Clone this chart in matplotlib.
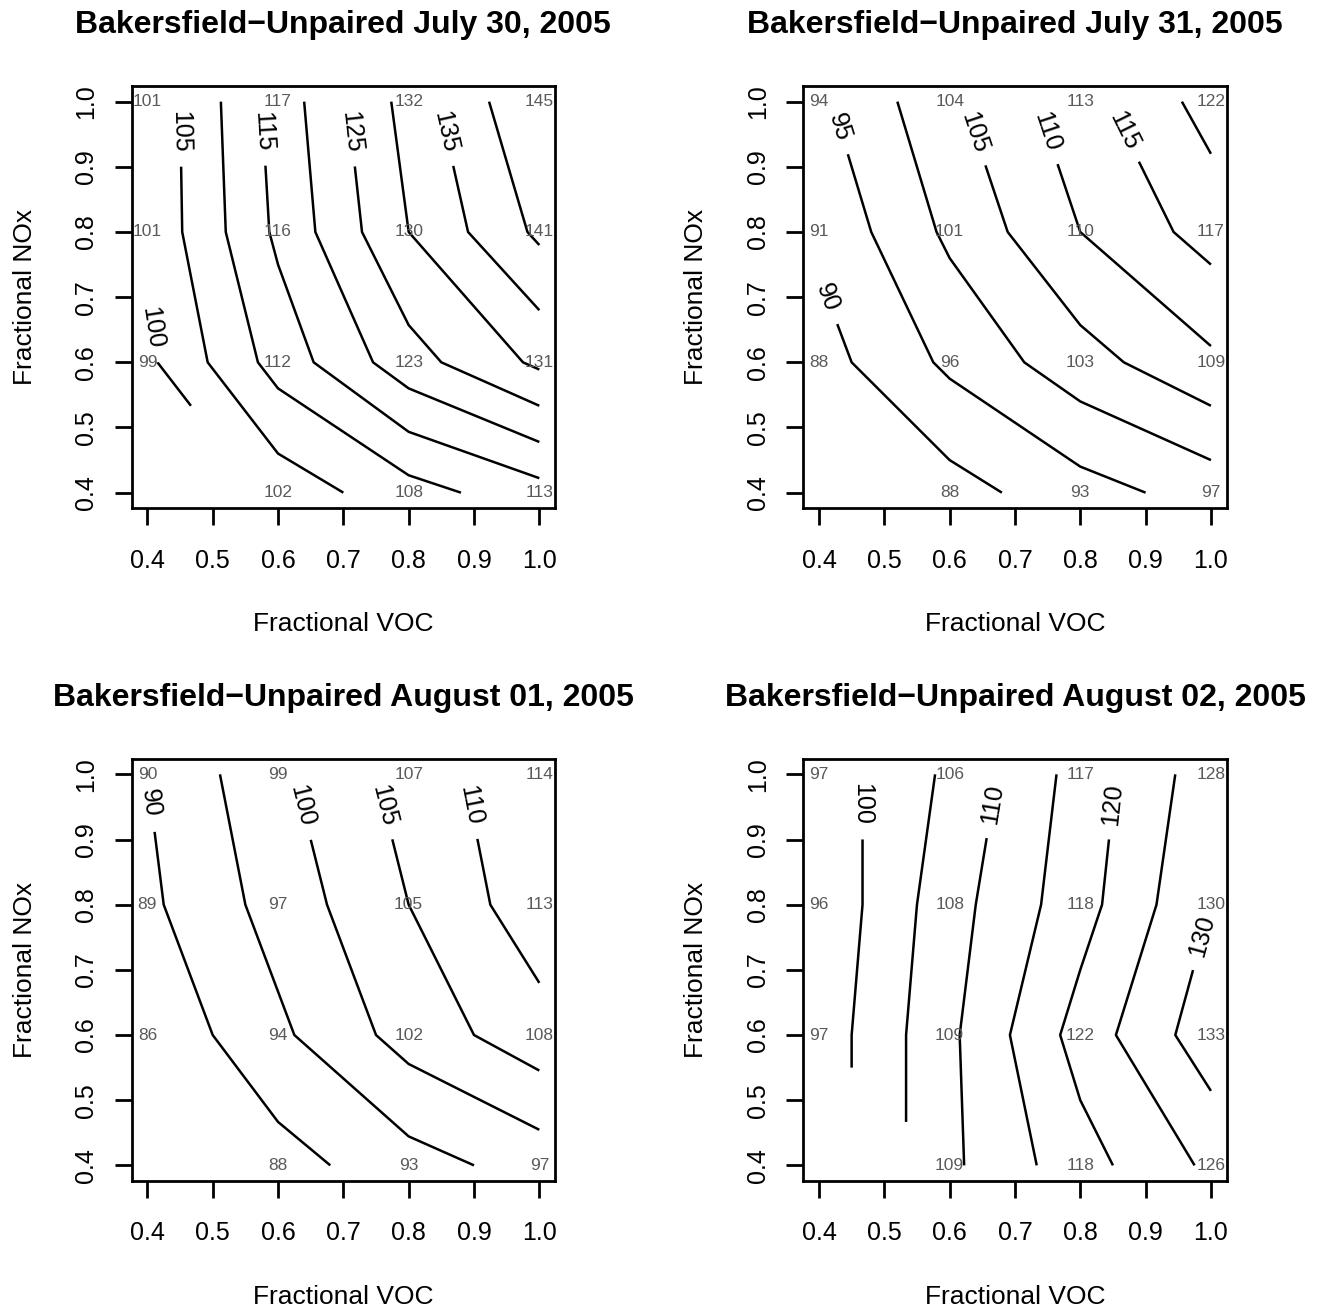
import numpy as np
import matplotlib
matplotlib.use("Agg")
import matplotlib.pyplot as plt

plt.rcParams['font.family'] = ['Liberation Sans', 'DejaVu Sans']

# fractional emission scaling on each axis
voc = [0.4, 0.6, 0.8, 1.0]
nox = [0.4, 0.6, 0.8, 1.0]

# peak ozone (ppb), rows run NOx = 0.4 -> 1.0, columns VOC = 0.4 -> 1.0
# the (0.4, 0.4) run is missing
o3_jul30 = [[np.nan, 102, 108, 113],
            [99, 112, 123, 131],
            [101, 116, 130, 141],
            [101, 117, 132, 145]]
o3_jul31 = [[np.nan, 88, 93, 97],
            [88, 96, 103, 109],
            [91, 101, 110, 117],
            [94, 104, 113, 122]]
o3_aug01 = [[np.nan, 88, 93, 97],
            [86, 94, 102, 108],
            [89, 97, 105, 113],
            [90, 99, 107, 114]]
o3_aug02 = [[np.nan, 109, 118, 126],
            [97, 109, 122, 133],
            [96, 108, 118, 130],
            [97, 106, 117, 128]]

days = ["July 30, 2005", "July 31, 2005", "August 01, 2005", "August 02, 2005"]
site = "Bakersfield\u2212Unpaired"

# where each labelled contour gets its number
label_spots = [
    {100: (0.418, 0.655), 105: (0.449, 0.954), 115: (0.577, 0.954),
     125: (0.712, 0.954), 135: (0.857, 0.954)},
    {90: (0.413, 0.700), 95: (0.434, 0.962), 105: (0.640, 0.954),
     110: (0.749, 0.954), 115: (0.869, 0.956)},
    {90: (0.403, 0.955), 100: (0.638, 0.952), 105: (0.760, 0.952),
     110: (0.893, 0.952)},
    {100: (0.467, 0.954), 110: (0.665, 0.954), 120: (0.846, 0.954),
     130: (1.000, 0.748)},
]

W, H = 1322, 1306
fig = plt.figure(figsize=(W / 100, H / 100), dpi=100)

# panel boxes in pixels: left, top
boxes = [(131.7, 86), (803.3, 86), (131.7, 758.7), (803.3, 758.7)]
bw, bh = 423.3, 422.3

grids = [o3_jul30, o3_jul31, o3_aug01, o3_aug02]
X, Y = np.meshgrid(voc, nox)

for k, z in enumerate(grids):
    left, top = boxes[k]
    ax = fig.add_axes([left / W, 1 - (top + bh) / H, bw / W, bh / H])
    Z = np.ma.masked_invalid(np.array(z, dtype=float))

    lo = np.ceil(Z.min() / 5) * 5
    hi = np.floor(Z.max() / 5) * 5
    levels = np.arange(lo, hi + 1, 5)

    # one contour set per level so each label sticks to its own line
    for lev in levels:
        cs = ax.contour(X, Y, Z, levels=[lev], colors='black',
                        linewidths=1.8, corner_mask=True)
        if int(lev) in label_spots[k]:
            ax.clabel(cs, manual=[label_spots[k][int(lev)]], fmt='%d',
                      fontsize=18, inline=True, inline_spacing=17)

    # grid values at each run
    for i, yv in enumerate(nox):
        for j, xv in enumerate(voc):
            if np.isfinite(z[i][j]):
                ax.text(xv, yv, f"{int(z[i][j])}", ha='center', va='center',
                        fontsize=12.5, color='#5a5a5a')

    ax.set_xlim(0.376, 1.024)
    ax.set_ylim(0.376, 1.024)
    ticks = np.round(np.arange(0.4, 1.01, 0.1), 1)
    ax.set_xticks(ticks)
    ax.set_yticks(ticks)
    ax.set_xticklabels([f"{t:.1f}" for t in ticks], fontsize=18)
    ax.set_yticklabels([f"{t:.1f}" for t in ticks], fontsize=18,
                       rotation=90, va='center')
    ax.tick_params(axis='x', direction='out', length=12, width=2, pad=17)
    ax.tick_params(axis='y', direction='out', length=12, width=2, pad=12)
    for sp in ax.spines.values():
        sp.set_linewidth(2)

    ax.set_xlabel("Fractional VOC", fontsize=19, va='baseline')
    ax.xaxis.set_label_coords(0.5, -0.2906)
    ax.set_ylabel("Fractional NOx", fontsize=19, va='baseline',
                  rotation_mode='anchor')
    ax.yaxis.set_label_coords(-0.2362, 0.5)
    ax.set_title(f"{site} {days[k]}", fontsize=23, fontweight='bold', pad=38)

fig.savefig("out.png", dpi=100)
